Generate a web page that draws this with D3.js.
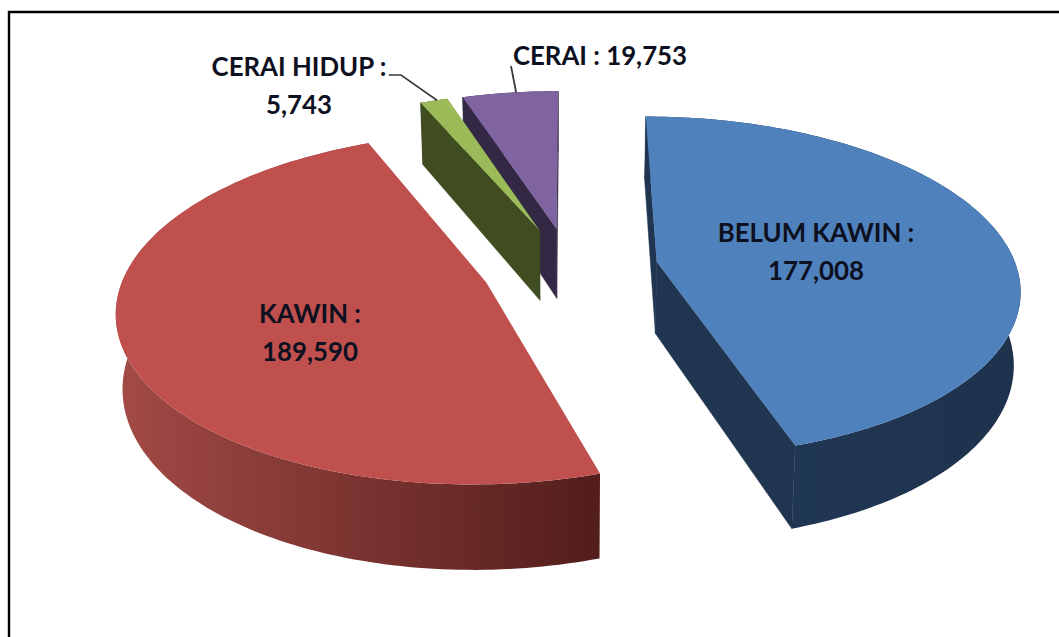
<!DOCTYPE html>
<html><head><meta charset="utf-8">
<script src="https://cdnjs.cloudflare.com/ajax/libs/d3/7.8.5/d3.min.js"></script>
<style>html,body{margin:0;padding:0;background:#fff}svg{display:block}</style>
</head><body><svg id="c" width="1059" height="637"></svg>
<script>
const categories = ["BELUM KAWIN", "KAWIN", "CERAI HIDUP", "CERAI"];
const values = [177008, 189590, 5743, 19753];
const topColors = ["#4f81bd", "#c0504d", "#9bbb59", "#8064a2"];
const sideColors = [["#213a59","#1e324c"], ["#a34a46","#521d1b"], ["#3f4d20","#3f4d20"], ["#342944","#342944"]];
const labelSpec = [
  {x:816, y:242, inline:false}, {x:310, y:323, inline:false},
  {x:299, y:76, inline:false}, {x:600, y:65, inline:true}
];

const svg = d3.select("#c");
svg.append("path").attr("d","M9,637V12H1059").attr("fill","none").attr("stroke","#000").attr("stroke-width",2.4);

const xc=570, yc=268, rx=360, ry=168, persp=0.145, explode=0.245, depth=72, xv=567, shrink=0.985;
const proj=(u,v)=>{const s=1/(1-persp*v);return [xc+rx*u*s, yc+ry*v*s, s];};
const bottom=p=>[xv+(p[0]-xv)*shrink, p[1]+depth*p[2]];

const pie=d3.pie().sort(null).value(d=>d);
const arcs=pie(values);
const line=d3.line();
const defs=svg.append("defs");
const screenArea=pts=>-d3.polygonArea(pts);

const order=[0,1,3,2];
const slices=arcs.map((a,i)=>{
  const mid=(a.startAngle+a.endAngle)/2;
  const ou=Math.sin(mid)*explode, ov=-Math.cos(mid)*explode;
  const at=t=>proj(ou+Math.sin(t),ov-Math.cos(t));
  const n=Math.max(4,Math.ceil((a.endAngle-a.startAngle)/0.02));
  const rim=d3.range(n+1).map(k=>at(a.startAngle+(a.endAngle-a.startAngle)*k/n));
  return {i,a,mid,apex:proj(ou,ov),rim,at};
});

order.forEach(i=>{
  const s=slices[i];
  const xs=s.rim.map(p=>p[0]);
  const gid="side"+i;
  const g=defs.append("linearGradient").attr("id",gid).attr("gradientUnits","userSpaceOnUse")
    .attr("x1",d3.min(xs)).attr("x2",d3.max(xs)).attr("y1",0).attr("y2",0);
  g.append("stop").attr("offset",0).attr("stop-color",sideColors[i][0]);
  g.append("stop").attr("offset",1).attr("stop-color",sideColors[i][1]);
  const layer=svg.append("g").attr("class","slice");
  const wall=s.rim.map(p=>p.slice(0,2)).concat(s.rim.map(bottom).reverse());
  layer.append("path").attr("d",line(wall)+"Z").attr("fill",`url(#${gid})`);
  const startO=s.rim[0], endO=s.rim[s.rim.length-1];
  [[startO,-1],[endO,1]].forEach(([o,sign])=>{
    const poly=[s.apex.slice(0,2),o.slice(0,2),bottom(o),bottom(s.apex)];
    const col=i===0?"#1f3550":sideColors[i][1];
    if(screenArea(poly)*sign>0) layer.append("path").attr("d",line(poly)+"Z")
      .attr("fill",col).attr("stroke",col).attr("stroke-width",0.5);
  });
  const top=[s.apex.slice(0,2)].concat(s.rim.map(p=>p.slice(0,2)));
  layer.append("path").attr("d",line(top)+"Z").attr("fill",topColors[i]);
});

const g2=slices[2].at(slices[2].mid+0.01), g3=slices[3].at(slices[3].mid+0.02);
svg.append("path").attr("d",line([[389,75],[401,75],[g2[0],g2[1]]])).attr("fill","none").attr("stroke","#3a3a3a").attr("stroke-width",1.6);
svg.append("path").attr("d",line([[511,66],[g3[0],g3[1]]])).attr("fill","none").attr("stroke","#3a3a3a").attr("stroke-width",1.8);

const fmt=d3.format(",");
const lab=svg.append("g").attr("font-family","Lato, 'Noto Sans', sans-serif").attr("font-weight",700)
  .attr("font-size",25.8).attr("fill","#0d1020").attr("text-anchor","middle");
labelSpec.forEach((l,i)=>{
  if(l.inline){
    lab.append("text").attr("x",l.x).attr("y",l.y).text(`${categories[i]} : ${fmt(values[i])}`);
  } else {
    lab.append("text").attr("x",l.x).attr("y",l.y).text(`${categories[i]} :`);
    lab.append("text").attr("x",l.x).attr("y",l.y+38).text(fmt(values[i]));
  }
});
</script></body></html>
